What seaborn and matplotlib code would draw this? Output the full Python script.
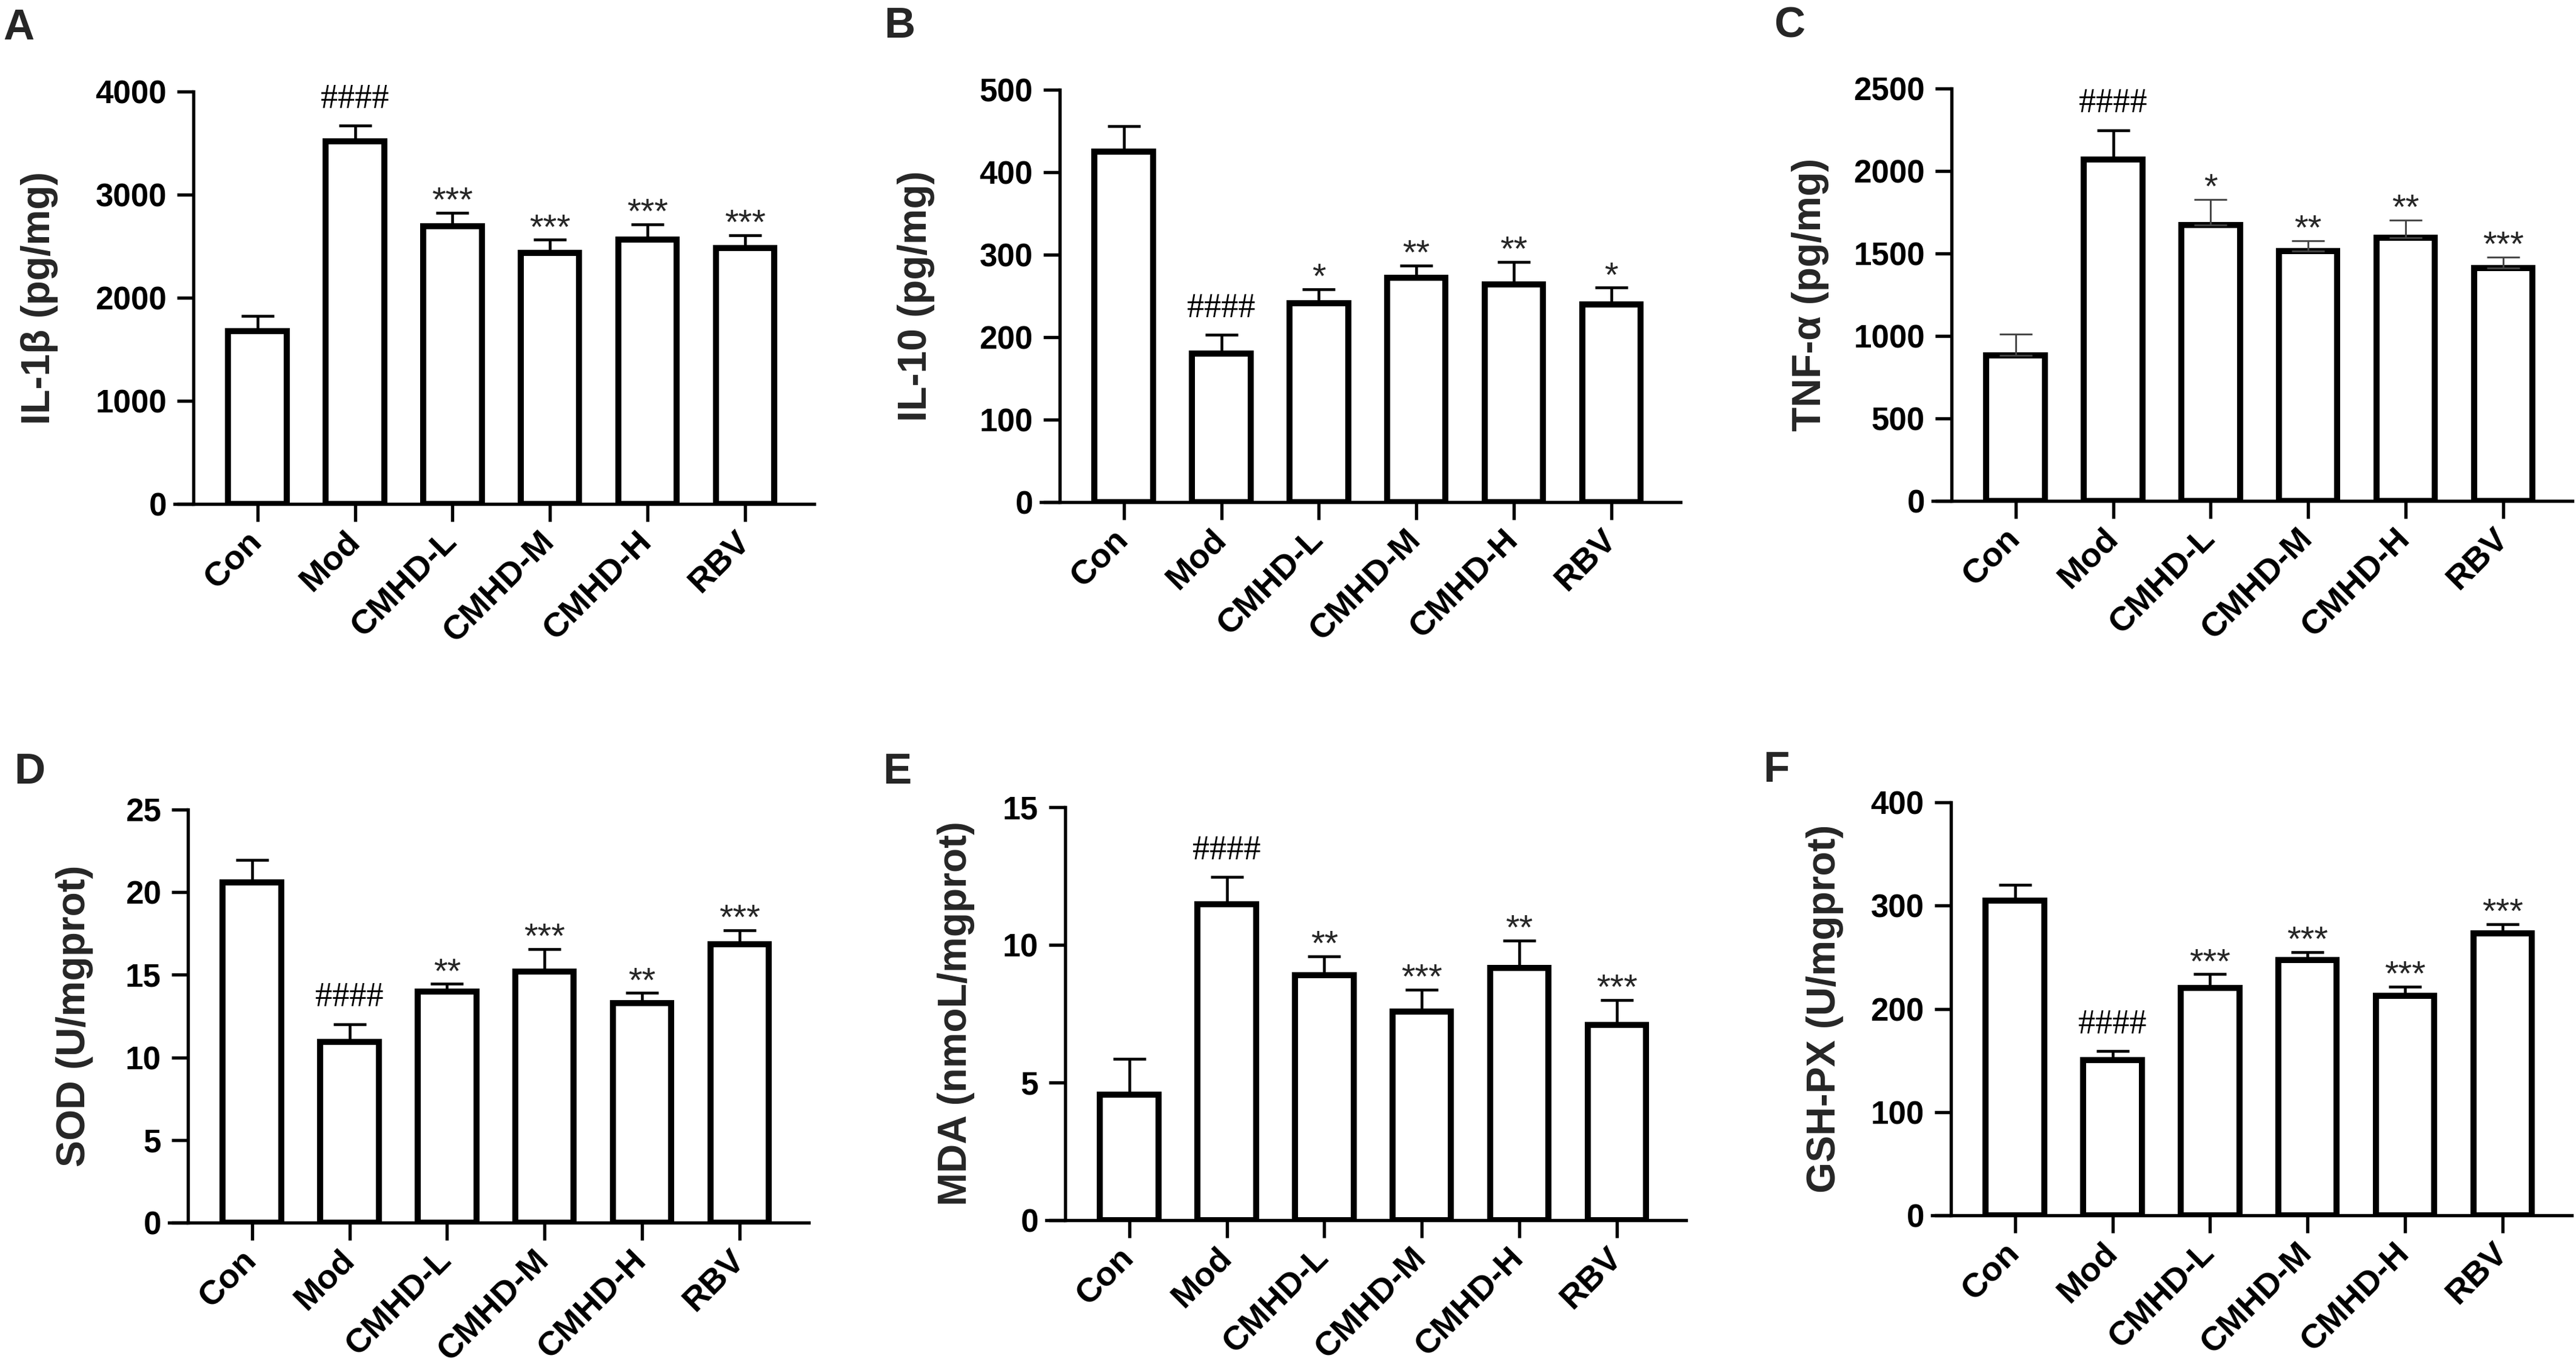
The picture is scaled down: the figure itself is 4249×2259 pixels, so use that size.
import numpy as np
import pandas as pd
import matplotlib
matplotlib.use('Agg')
import matplotlib.pyplot as plt
import seaborn as sns

# group names shared by all six panels
groups = ['Con', 'Mod', 'CMHD-L', 'CMHD-M', 'CMHD-H', 'RBV']

# values (mean, SEM)
il1b_mean = [1675, 3520, 2695, 2437, 2565, 2480]
il1b_sem = [150, 150, 130, 125, 148, 127]
il1b_sig = ['', '####', '***', '***', '***', '***']

il10_mean = [425, 180, 241, 272, 264, 240]
il10_sem = [31, 23, 17, 15, 27, 20]
il10_sig = ['', '####', '*', '**', '**', '*']

tnf_mean = [883, 2070, 1672, 1516, 1596, 1413]
tnf_sem = [127, 178, 155, 61, 106, 66]
tnf_sig = ['', '####', '*', '**', '**', '***']

sod_mean = [20.6, 10.95, 14.0, 15.2, 13.3, 16.85]
sod_sem = [1.35, 1.07, 0.45, 1.36, 0.6, 0.85]
sod_sig = ['', '####', '**', '***', '**', '***']

mda_mean = [4.55, 11.47, 8.9, 7.58, 9.17, 7.1]
mda_sem = [1.3, 1.0, 0.68, 0.8, 0.98, 0.9]
mda_sig = ['', '####', '**', '***', '**', '***']

gsh_mean = [305, 150.5, 220, 247, 212.7, 273]
gsh_sem = [15, 8.5, 13.5, 8, 9, 9]
gsh_sig = ['', '####', '***', '***', '***', '***']

sns.set_theme(style='ticks')
plt.rcParams['font.family'] = ['Liberation Sans', 'DejaVu Sans']

W, H = 4249, 2259
fig = plt.figure(figsize=(W / 300, H / 300), dpi=300)

# (letter, ylabel, means, sems, sig, ymax, ystep, yaxis_px, top_px, zero_px, label_off_px, letter_xy, thin_err)
panels = [
    ('A', 'IL-1β (pg/mg)', il1b_mean, il1b_sem, il1b_sig, 4000, 1000, 318, 151, 831, -253, (5, 65), False),
    ('B', 'IL-10 (pg/mg)', il10_mean, il10_sem, il10_sig, 500, 100, 1747, 148, 828, -236, (1458, 62), False),
    ('C', 'TNF-α (pg/mg)', tnf_mean, tnf_sem, tnf_sig, 2500, 500, 3218, 146, 826, -232, (2926, 61), True),
    ('D', 'SOD (U/mgprot)', sod_mean, sod_sem, sod_sig, 25, 5, 309, 1335, 2016, -186, (23, 1292), False),
    ('E', 'MDA (nmoL/mgprot)', mda_mean, mda_sem, mda_sig, 15, 5, 1756, 1331, 2012, -179, (1456, 1292), False),
    ('F', 'GSH-PX (U/mgprot)', gsh_mean, gsh_sem, gsh_sig, 400, 100, 3217, 1323, 2004, -207, (2908, 1289), False),
]

ax_w = 1055
for letter, ylab, means, sems, sig, ymax, ystep, yax, top, zero, loff, lxy, thin in panels:
    left = yax - 30
    ax = fig.add_axes([left / W, (H - zero) / H, ax_w / W, (zero - top) / H])
    df = pd.DataFrame({'group': groups, 'value': means})
    sns.barplot(data=df, x='group', y='value', order=groups, ax=ax, color='white',
                saturation=1, edgecolor='black', linewidth=2.4, width=0.6, errorbar=None)
    x = np.arange(len(groups))
    for i in range(len(groups)):
        lw = 0.7 if (thin and i != 1) else 1.1
        col = '#444444' if (thin and i != 1) else 'black'
        ax.errorbar(x[i], means[i], yerr=[[0], [sems[i]]], fmt='none', ecolor=col,
                    elinewidth=lw, capsize=6.4, capthick=lw, zorder=3)
        if sig[i].startswith('#'):
            ax.annotate(sig[i], (x[i], means[i] + sems[i]), xytext=(0, 7), textcoords='offset points',
                        ha='center', va='baseline', fontsize=13.5, family='Liberation Serif',
                        color='black', annotation_clip=False)
        elif sig[i]:
            ax.annotate(sig[i], (x[i], means[i] + sems[i]), xytext=(0, 0.5), textcoords='offset points',
                        ha='center', va='baseline', fontsize=14, annotation_clip=False)

    ax.set_xlim(-0.85, 5.71)
    ax.set_ylim(0, ymax)
    ax.set_yticks(np.arange(0, ymax + ystep / 2, ystep))
    ax.spines['left'].set_position(('data', -0.66))
    ax.spines['top'].set_visible(False)
    ax.spines['right'].set_visible(False)
    for s in ['left', 'bottom']:
        ax.spines[s].set_linewidth(1.3)
        ax.spines[s].set_color('black')
    ax.tick_params(axis='y', length=6.5, width=1.3, pad=4, labelsize=12.7, colors='black')
    ax.tick_params(axis='x', length=7, width=1.3, pad=6, labelsize=13.5, colors='black')
    for t in ax.get_yticklabels():
        t.set_fontweight('bold')
    ax.set_xticks(x)
    ax.set_xticklabels(groups, rotation=45, ha='right', rotation_mode='anchor',
                       fontweight='bold', va='center')
    ax.set_xlabel('')
    ax.set_ylabel(ylab, fontsize=15.8, fontweight='bold', va='center')
    ax.yaxis.set_label_coords((loff + 30) / ax_w, 0.5)
    ax.set_facecolor('white')

    fig.text(lxy[0] / W, 1 - lxy[1] / H, letter, fontsize=17, fontweight='bold',
             ha='left', va='baseline')

fig.savefig('out.png', dpi=300, facecolor='white')
